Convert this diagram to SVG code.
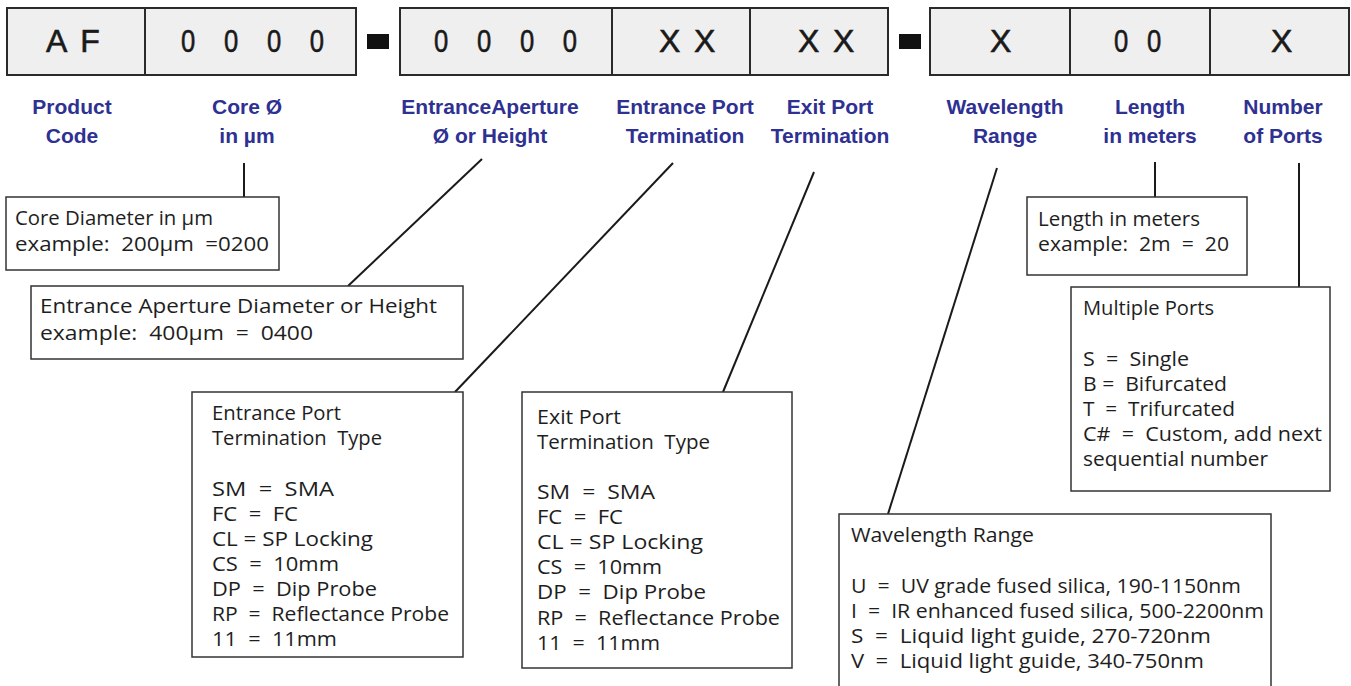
<svg xmlns="http://www.w3.org/2000/svg" width="1351" height="686" viewBox="0 0 1351 686">
<style>
.cell{fill:#efefef;stroke:#2a2a2a;stroke-width:2}
.dash{fill:#111}
.code{font-family:"Liberation Sans",Arial,sans-serif;font-size:32px;fill:#1a1a1a;stroke:#1a1a1a;stroke-width:0.6;white-space:pre}
.lbl{font-family:"Liberation Sans",Arial,sans-serif;font-size:21px;font-weight:bold;fill:#2e3192;text-anchor:middle}
.box{fill:#fff;stroke:#333;stroke-width:1.5}
.txt{font-family:"Open Sans","Liberation Sans",sans-serif;font-size:20px;fill:#1e1e1e;white-space:pre}
.con line{stroke:#1a1a1a;stroke-width:2}
</style>
<rect width="1351" height="686" fill="#fff"/>

<g id="code-row">
  <g id="cell-product"><rect class="cell" x="7" y="8" width="138" height="67"/><text class="code" x="46" y="52" letter-spacing="2.9">A F</text></g>
  <g id="cell-core"><rect class="cell" x="145" y="8" width="211" height="67"/><text class="code" transform="scale(0.8,1)" x="226.25" y="52" letter-spacing="13.5">0 0 0 0</text></g>
  <rect id="dash1" class="dash" x="367" y="34" width="22" height="15"/>
  <g id="cell-aperture"><rect class="cell" x="400" y="8" width="212" height="67"/><text class="code" transform="scale(0.8,1)" x="542.5" y="52" letter-spacing="13.5">0 0 0 0</text></g>
  <g id="cell-entrance"><rect class="cell" x="612" y="8" width="138" height="67"/><text class="code" x="659" y="52" letter-spacing="2.4">X X</text></g>
  <g id="cell-exit"><rect class="cell" x="750" y="8" width="138" height="67"/><text class="code" x="798" y="52" letter-spacing="2.4">X X</text></g>
  <rect id="dash2" class="dash" x="899" y="34" width="22" height="15"/>
  <g id="cell-wavelength"><rect class="cell" x="930" y="8" width="140" height="67"/><text class="code" x="990" y="52">X</text></g>
  <g id="cell-length"><rect class="cell" x="1070" y="8" width="140" height="67"/><text class="code" transform="scale(0.8,1)" x="1392.5" y="52" letter-spacing="7.3">0 0</text></g>
  <g id="cell-ports"><rect class="cell" x="1210" y="8" width="139" height="67"/><text class="code" x="1271" y="52">X</text></g>
</g>

<g id="labels">
  <text class="lbl" x="72" y="114">Product</text><text class="lbl" x="72" y="143">Code</text>
  <text class="lbl" x="247" y="114">Core Ø</text><text class="lbl" x="247" y="143">in µm</text>
  <text class="lbl" x="490" y="114">EntranceAperture</text><text class="lbl" x="490" y="143">Ø or Height</text>
  <text class="lbl" x="685" y="114">Entrance Port</text><text class="lbl" x="685" y="143">Termination</text>
  <text class="lbl" x="830" y="114">Exit Port</text><text class="lbl" x="830" y="143">Termination</text>
  <text class="lbl" x="1005" y="114">Wavelength</text><text class="lbl" x="1005" y="143">Range</text>
  <text class="lbl" x="1150" y="114">Length</text><text class="lbl" x="1150" y="143">in meters</text>
  <text class="lbl" x="1283" y="114">Number</text><text class="lbl" x="1283" y="143">of Ports</text>
</g>

<g id="connectors" class="con">
  <line x1="244" y1="163" x2="244" y2="197"/>
  <line x1="482" y1="159" x2="348" y2="286"/>
  <line x1="673" y1="163" x2="455" y2="392"/>
  <line x1="814" y1="172" x2="723" y2="392"/>
  <line x1="997" y1="168" x2="888" y2="514"/>
  <line x1="1155" y1="162" x2="1155" y2="197"/>
  <line x1="1299" y1="163" x2="1299" y2="287"/>
</g>

<g id="box-core">
  <rect class="box" x="6" y="197" width="273" height="73"/>
  <text class="txt" x="15" y="225" textLength="198" lengthAdjust="spacingAndGlyphs">Core Diameter in µm</text>
  <text class="txt" x="15" y="251" textLength="254" lengthAdjust="spacingAndGlyphs">example:  200µm  =0200</text>
</g>

<g id="box-aperture">
  <rect class="box" x="31" y="286" width="432" height="73"/>
  <text class="txt" x="40" y="313" textLength="397" lengthAdjust="spacingAndGlyphs">Entrance Aperture Diameter or Height</text>
  <text class="txt" x="40" y="340" textLength="273" lengthAdjust="spacingAndGlyphs">example:  400µm  =  0400</text>
</g>

<g id="box-entrance">
  <rect class="box" x="192" y="392" width="271" height="265"/>
  <text class="txt" x="212" y="420" textLength="129" lengthAdjust="spacingAndGlyphs">Entrance Port</text>
  <text class="txt" x="212" y="445" textLength="170" lengthAdjust="spacingAndGlyphs">Termination  Type</text>
  <text class="txt" x="212" y="496" textLength="122" lengthAdjust="spacingAndGlyphs">SM  =  SMA</text>
  <text class="txt" x="212" y="521" textLength="86" lengthAdjust="spacingAndGlyphs">FC  =  FC</text>
  <text class="txt" x="212" y="546" textLength="161" lengthAdjust="spacingAndGlyphs">CL = SP Locking</text>
  <text class="txt" x="212" y="571" textLength="127" lengthAdjust="spacingAndGlyphs">CS  =  10mm</text>
  <text class="txt" x="212" y="596" textLength="165" lengthAdjust="spacingAndGlyphs">DP  =  Dip Probe</text>
  <text class="txt" x="212" y="621" textLength="237" lengthAdjust="spacingAndGlyphs">RP  =  Reflectance Probe</text>
  <text class="txt" x="212" y="646" textLength="125" lengthAdjust="spacingAndGlyphs">11  =  11mm</text>
</g>

<g id="box-exit">
  <rect class="box" x="522" y="392" width="270" height="276"/>
  <text class="txt" x="537" y="424" textLength="84" lengthAdjust="spacingAndGlyphs">Exit Port</text>
  <text class="txt" x="537" y="449" textLength="173" lengthAdjust="spacingAndGlyphs">Termination  Type</text>
  <text class="txt" x="537" y="499" textLength="118" lengthAdjust="spacingAndGlyphs">SM  =  SMA</text>
  <text class="txt" x="537" y="524" textLength="86" lengthAdjust="spacingAndGlyphs">FC  =  FC</text>
  <text class="txt" x="537" y="549" textLength="166" lengthAdjust="spacingAndGlyphs">CL = SP Locking</text>
  <text class="txt" x="537" y="574" textLength="125" lengthAdjust="spacingAndGlyphs">CS  =  10mm</text>
  <text class="txt" x="537" y="599" textLength="169" lengthAdjust="spacingAndGlyphs">DP  =  Dip Probe</text>
  <text class="txt" x="537" y="625" textLength="243" lengthAdjust="spacingAndGlyphs">RP  =  Reflectance Probe</text>
  <text class="txt" x="537" y="650" textLength="123" lengthAdjust="spacingAndGlyphs">11  =  11mm</text>
</g>

<g id="box-wavelength">
  <rect class="box" x="839" y="514" width="432" height="190"/>
  <text class="txt" x="851" y="542" textLength="183" lengthAdjust="spacingAndGlyphs">Wavelength Range</text>
  <text class="txt" x="851" y="593" textLength="390" lengthAdjust="spacingAndGlyphs">U  =  UV grade fused silica, 190-1150nm</text>
  <text class="txt" x="851" y="618" textLength="413" lengthAdjust="spacingAndGlyphs">I  =  IR enhanced fused silica, 500-2200nm</text>
  <text class="txt" x="851" y="643" textLength="360" lengthAdjust="spacingAndGlyphs">S  =  Liquid light guide, 270-720nm</text>
  <text class="txt" x="851" y="668" textLength="353" lengthAdjust="spacingAndGlyphs">V  =  Liquid light guide, 340-750nm</text>
</g>

<g id="box-length">
  <rect class="box" x="1027" y="197" width="220" height="78"/>
  <text class="txt" x="1038" y="226" textLength="162" lengthAdjust="spacingAndGlyphs">Length in meters</text>
  <text class="txt" x="1038" y="251" textLength="191" lengthAdjust="spacingAndGlyphs">example:  2m  =  20</text>
</g>

<g id="box-ports">
  <rect class="box" x="1071" y="287" width="259" height="204"/>
  <text class="txt" x="1083" y="315" textLength="131" lengthAdjust="spacingAndGlyphs">Multiple Ports</text>
  <text class="txt" x="1083" y="366" textLength="106" lengthAdjust="spacingAndGlyphs">S  =  Single</text>
  <text class="txt" x="1083" y="391" textLength="144" lengthAdjust="spacingAndGlyphs">B =  Bifurcated</text>
  <text class="txt" x="1083" y="416" textLength="152" lengthAdjust="spacingAndGlyphs">T  =  Trifurcated</text>
  <text class="txt" x="1083" y="441" textLength="239" lengthAdjust="spacingAndGlyphs">C#  =  Custom, add next</text>
  <text class="txt" x="1083" y="466" textLength="185" lengthAdjust="spacingAndGlyphs">sequential number</text>
</g>
</svg>
